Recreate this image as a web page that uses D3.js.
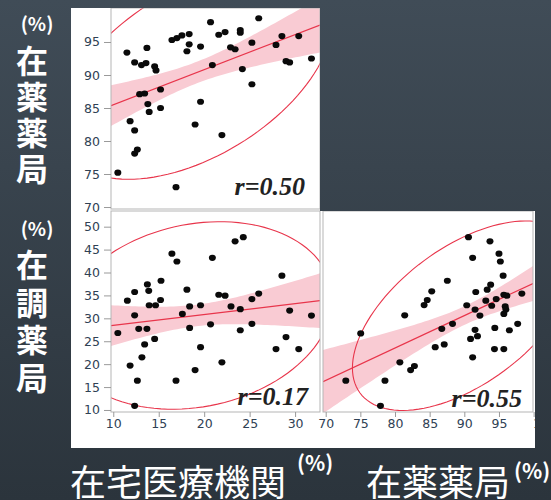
<!DOCTYPE html>
<html>
<head>
<meta charset="utf-8">
<script src="https://cdn.jsdelivr.net/npm/d3@7"></script>
<style>
  body { margin: 0; background: #333d46; }
  svg { display: block; }
</style>
</head>
<body>
<svg id="chart"></svg>
<script>
const width = 551, height = 500;

// tick values
const homeTicks = [10, 15, 20, 25, 30];
const zaiyakuTicksY = [70, 75, 80, 85, 90, 95];
const zaiyakuTicksX = [70, 75, 80, 85, 90, 95, 100];
const chouzaiTicks = [10, 15, 20, 25, 30, 35, 40, 45, 50];

// 在宅医療機関 (x) vs 在薬薬局 (y)
const homeVsZaiyaku = [
  [10.5,75.2],[11.5,93.4],[12.35,91.9],[13.1,91.5],[13.6,91.8],[13.7,94.1],[14.55,91.3],[14.7,90.7],
  [12.9,87.1],[13.45,87.2],[15.2,87.8],[13.8,85.6],[13.95,84.4],[15.2,85.0],[11.85,83.0],[12.35,81.6],
  [12.65,78.7],[12.35,78.1],[16.45,95.3],[17.0,95.6],[17.55,96.0],[18.35,96.2],[18.35,94.65],[18.1,93.6],
  [19.6,94.3],[20.7,98.0],[20.9,91.5],[19.6,85.95],[19.0,82.5],[16.9,73.0],[21.6,96.1],[22.3,96.5],
  [23.97,96.8],[23.97,96.4],[26.0,98.6],[22.9,94.2],[23.4,93.9],[25.25,94.9],[24.2,90.9],[25.25,88.6],
  [21.95,80.9],[27.9,94.55],[28.55,95.9],[30.4,95.9],[29.0,92.1],[29.4,91.9],[31.8,92.5]
];

// 在宅医療機関 (x) vs 在調薬局 (y)
const homeVsChouzai = [
  [10.5,26.8],[11.55,33.85],[12.35,35.75],[12.35,30.65],[12.8,27.7],[13.7,27.7],[13.75,37.4],[13.9,36.0],
  [13.95,32.85],[14.65,32.85],[15.2,34.0],[15.25,38.2],[13.45,24.3],[14.55,25.5],[13.15,21.5],[11.85,19.7],
  [12.65,16.4],[12.35,10.9],[16.45,44.1],[17.0,42.4],[18.1,36.25],[18.4,32.6],[17.6,30.95],[18.4,27.9],
  [19.6,32.85],[19.6,23.7],[19.0,18.7],[16.9,16.4],[20.9,43.2],[20.7,28.7],[23.4,46.8],[24.3,47.7],
  [21.6,35.15],[22.3,34.95],[22.95,32.6],[23.97,32.0],[25.25,34.2],[26.0,35.4],[25.25,28.8],[23.97,27.4],
  [21.95,20.4],[28.55,39.3],[29.4,31.7],[31.8,30.6],[29.0,25.9],[27.9,23.3],[30.4,23.3]
];

// 在薬薬局 (x) vs 在調薬局 (y)
const zaiyakuVsChouzai = [
  [72.9,16.4],[75.05,26.7],[78.55,16.4],[77.9,10.9],[80.7,20.4],[82.25,18.7],[82.8,19.6],[81.4,30.65],
  [84.2,32.9],[84.65,34.0],[85.3,35.9],[87.55,38.2],[86.75,27.7],[88.3,28.8],[85.8,23.7],[87.1,24.3],
  [90.6,47.7],[93.7,46.8],[91.2,43.2],[95.0,44.1],[95.2,42.4],[95.6,39.3],[91.65,35.75],[93.3,36.25],
  [93.8,37.35],[90.35,32.85],[91.55,31.9],[92.25,30.6],[93.1,33.85],[93.95,32.75],[94.6,34.2],[95.7,35.15],
  [96.15,34.95],[95.9,32.6],[96.0,31.9],[95.7,30.95],[98.3,35.4],[91.55,27.5],[90.9,25.5],[91.9,26.1],
  [91.2,21.5],[94.4,27.9],[94.35,23.3],[95.7,23.3],[96.5,27.4],[97.7,28.8]
];

const rLabels = ["r=0.50", "r=0.17", "r=0.55"];

const redColor = "#e8354b";
const bandColor = "#f9cbd3";
const frameColor = "#b5b5b5";
const tickColor = "#2f4154";

const svg = d3.select("#chart")
  .attr("width", width)
  .attr("height", height);

// background
const defs = svg.append("defs");
const grad = defs.append("linearGradient").attr("id", "bg").attr("x1", 0).attr("y1", 0).attr("x2", 0).attr("y2", 1);
grad.append("stop").attr("offset", "0%").attr("stop-color", "#404c57");
grad.append("stop").attr("offset", "100%").attr("stop-color", "#2b343c");
svg.append("rect").attr("width", width).attr("height", height).attr("fill", "url(#bg)");

// white area of the JMP picture
const whiteClip = defs.append("clipPath").attr("id", "whiteClip");
whiteClip.append("rect").attr("x", 71).attr("y", 8).attr("width", 249).attr("height", 440);
whiteClip.append("rect").attr("x", 320).attr("y", 211).attr("width", 215).attr("height", 237);

const chart = svg.append("g").attr("clip-path", "url(#whiteClip)");
chart.append("rect").attr("width", width).attr("height", height).attr("fill", "white");

const panels = [
  { data: homeVsZaiyaku, x0: 111, x1: 320, y0: 8, y1: 209,
    xDomain: [9.75, 32.74], yDomain: [69.7, 100.15],
    yTicks: zaiyakuTicksY, xTicks: null, label: rLabels[0], lx: 15, ly: 14 },
  { data: homeVsChouzai, x0: 111, x1: 320, y0: 211, y1: 412,
    xDomain: [9.75, 32.74], yDomain: [9.56, 53.42],
    yTicks: chouzaiTicks, xTicks: homeTicks, label: rLabels[1], lx: 12, ly: 7 },
  { data: zaiyakuVsChouzai, x0: 323, x1: 533, y0: 211, y1: 412,
    xDomain: [69.61, 99.91], yDomain: [9.56, 53.42],
    yTicks: null, xTicks: zaiyakuTicksX, label: rLabels[2], lx: 11, ly: 5 }
];

function fitStats(pts) {
  const n = pts.length;
  const mx = d3.mean(pts, d => d[0]), my = d3.mean(pts, d => d[1]);
  let sxx = 0, syy = 0, sxy = 0;
  pts.forEach(([x, y]) => { sxx += (x - mx) ** 2; syy += (y - my) ** 2; sxy += (x - mx) * (y - my); });
  const b = sxy / sxx, a = my - b * mx;
  const sres = Math.sqrt(d3.sum(pts, ([x, y]) => (y - a - b * x) ** 2) / (n - 2));
  return { n, mx, my, sxx, a, b, sres,
    r: sxy / Math.sqrt(sxx * syy),
    sx: Math.sqrt(sxx / (n - 1)), sy: Math.sqrt(syy / (n - 1)) };
}

panels.forEach((p, i) => {
  const x = d3.scaleLinear().domain(p.xDomain).range([p.x0, p.x1]);
  const y = d3.scaleLinear().domain(p.yDomain).range([p.y1, p.y0]);
  const st = fitStats(p.data);

  defs.append("clipPath").attr("id", "pc" + i)
    .append("rect").attr("x", p.x0).attr("y", p.y0)
    .attr("width", p.x1 - p.x0).attr("height", p.y1 - p.y0);

  const g = chart.append("g");
  const inner = g.append("g").attr("clip-path", `url(#pc${i})`);

  // confidence band of the fit
  const t = 2.014;
  const xs = d3.range(0, 61).map(k => p.xDomain[0] + (p.xDomain[1] - p.xDomain[0]) * k / 60);
  const se = v => t * st.sres * Math.sqrt(1 / st.n + (v - st.mx) ** 2 / st.sxx);
  inner.append("path")
    .datum(xs)
    .attr("fill", bandColor)
    .attr("d", d3.area()
      .x(v => x(v))
      .y0(v => y(st.a + st.b * v - se(v)))
      .y1(v => y(st.a + st.b * v + se(v))));

  // fit line
  inner.append("line")
    .attr("x1", x(p.xDomain[0])).attr("y1", y(st.a + st.b * p.xDomain[0]))
    .attr("x2", x(p.xDomain[1])).attr("y2", y(st.a + st.b * p.xDomain[1]))
    .attr("stroke", redColor).attr("stroke-width", 1.2);

  // density ellipse
  const k = Math.sqrt(6.5);
  const ell = d3.range(0, 121).map(j => {
    const a = j / 120 * 2 * Math.PI;
    return [st.mx + k * st.sx * Math.cos(a),
            st.my + k * st.sy * (st.r * Math.cos(a) + Math.sqrt(1 - st.r * st.r) * Math.sin(a))];
  });
  inner.append("path")
    .datum(ell)
    .attr("fill", "none")
    .attr("stroke", redColor)
    .attr("stroke-width", 1.1)
    .attr("d", d3.line().x(d => x(d[0])).y(d => y(d[1])));

  // points
  inner.selectAll("ellipse")
    .data(p.data)
    .enter()
    .append("ellipse")
    .attr("cx", d => x(d[0]))
    .attr("cy", d => y(d[1]))
    .attr("rx", 3.5).attr("ry", 3.1)
    .attr("fill", "#0a0a0a");

  // frame
  g.append("rect")
    .attr("x", p.x0).attr("y", p.y0)
    .attr("width", p.x1 - p.x0).attr("height", p.y1 - p.y0)
    .attr("fill", "none").attr("stroke", frameColor);

  if (p.yTicks) {
    const ax = g.append("g")
      .attr("transform", `translate(${p.x0},0)`)
      .call(d3.axisLeft(y).tickValues(p.yTicks).tickSize(7).tickPadding(4));
    ax.select(".domain").remove();
    ax.selectAll("line").attr("stroke", "#9a9a9a");
    ax.selectAll("text").attr("fill", tickColor)
      .style("font-family", "DejaVu Sans").style("font-size", "12.5px");
  }
  if (p.xTicks) {
    const ax = g.append("g")
      .attr("transform", `translate(0,${p.y1})`)
      .call(d3.axisBottom(x).tickValues(p.xTicks).tickSize(5).tickPadding(2));
    ax.select(".domain").remove();
    ax.selectAll("line").attr("stroke", "#9a9a9a");
    ax.selectAll("text").attr("fill", tickColor)
      .style("font-family", "DejaVu Sans").style("font-size", "12.5px")
      .filter(d => d === 100).attr("text-anchor", "start").attr("x", -1);
  }

  // correlation label
  g.append("text")
    .attr("x", p.x1 - p.lx).attr("y", p.y1 - p.ly)
    .attr("text-anchor", "end")
    .style("font-family", "'Liberation Serif', serif")
    .style("font-weight", "bold").style("font-style", "italic")
    .style("font-size", "26px")
    .attr("fill", "#222")
    .text(p.label);
});

// axis titles
const cjk = "'Noto Sans CJK JP', 'Noto Sans', sans-serif";
const leftTitles = [
  { text: "在薬薬局", pctY: 22, y0: 45, spacing: 4 },
  { text: "在調薬局", pctY: 227, y0: 249, spacing: 5.5 }
];
leftTitles.forEach(t => {
  svg.append("text")
    .attr("x", 37).attr("y", t.pctY)
    .attr("text-anchor", "middle").attr("dominant-baseline", "central")
    .attr("fill", "white").style("font-family", cjk).style("font-size", "19px").style("font-weight", "bold")
    .text("(%)");
  svg.append("text")
    .attr("x", 32).attr("y", t.y0)
    .style("writing-mode", "vertical-rl")
    .style("letter-spacing", t.spacing + "px")
    .attr("fill", "white").style("font-family", cjk).style("font-size", "32px").style("font-weight", "bold")
    .text(t.text);
});

const bottomTitles = [
  { text: "在宅医療機関", x: 70, size: 36, pctX: 297, pctY: 471 },
  { text: "在薬薬局", x: 366, size: 36, pctX: 514, pctY: 479 }
];
bottomTitles.forEach(t => {
  svg.append("text")
    .attr("x", t.x).attr("y", 496)
    .attr("fill", "white").style("font-family", cjk).style("font-size", t.size + "px")
    .text(t.text);
  svg.append("text")
    .attr("x", t.pctX).attr("y", t.pctY)
    .attr("fill", "white").style("font-family", cjk).style("font-size", "21px").style("font-weight", "bold")
    .text("(%)");
});
</script>
</body>
</html>
